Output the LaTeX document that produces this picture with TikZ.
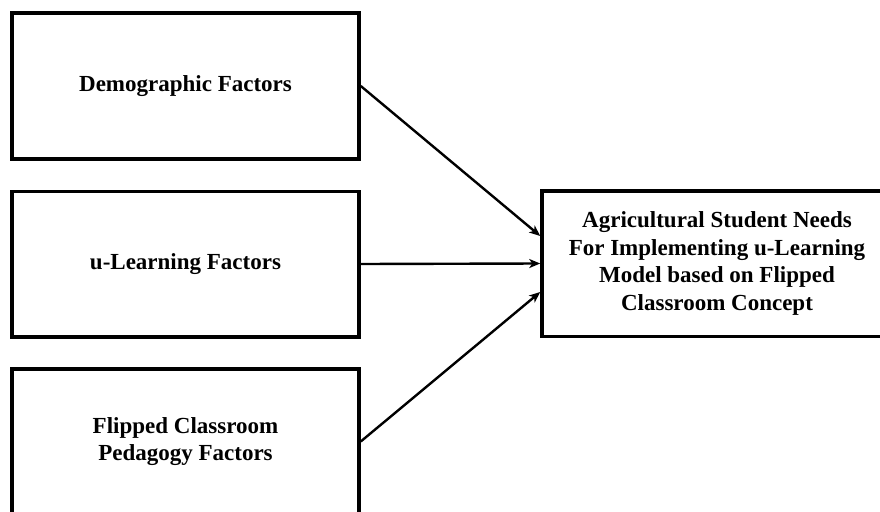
\documentclass[tikz,border=0pt]{standalone}
\usepackage{fontspec}
\setmainfont{Liberation Serif}
\usetikzlibrary{arrows.meta}
\begin{document}
\begin{tikzpicture}[x=1pt,y=-1pt,
  box/.style={draw, line width=3.5pt, align=center, inner sep=0pt,
    font=\bfseries\fontsize{23}{27.5}\selectfont},
  factor/.style={box, minimum width=347pt, minimum height=145.5pt},
  link/.style={line width=2.4pt, -{Stealth[length=11pt,width=9pt,inset=3pt]}}]
\useasboundingbox (0,0) rectangle (880,511);
\clip (0,0) rectangle (880,511);

% input factors
\node[factor] (demo) at (185.5,86) {Demographic Factors};
\node[factor] (ulearn) at (185.5,264) {u-Learning Factors};
\node[factor] (flip) at (185.5,441.5) {Flipped Classroom\\Pedagogy Factors};

% outcome
\node[box, minimum width=350pt, minimum height=145.5pt] (needs) at (717,263.5)
  {Agricultural Student Needs\\For Implementing u-Learning\\Model based on Flipped\\Classroom Concept};

% arrival points on the outcome box
\coordinate (inTop) at ([yshift=27.5pt]needs.west);
\coordinate (inBot) at ([yshift=-28.5pt]needs.west);

\draw[link] (demo.east) -- (inTop);
\draw[link] (ulearn.east) -- (needs.west);
\draw[link] (flip.east) -- (inBot);
\end{tikzpicture}
\end{document}
